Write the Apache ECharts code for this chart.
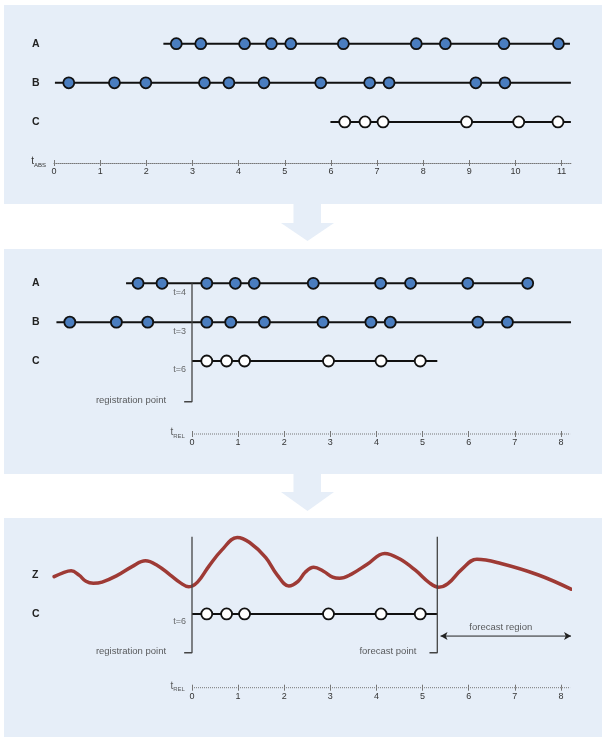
<!DOCTYPE html>
<html><head><meta charset="utf-8">
<script src="https://cdn.jsdelivr.net/npm/echarts@6/dist/echarts.min.js"></script>
<style>html,body{margin:0;padding:0;background:#fff}#c{width:602px;height:738px}</style>
</head><body><div id="c"></div>
<script>
// ---------- data ----------
// Panel 1: absolute time
const absTicks = [0,1,2,3,4,5,6,7,8,9,10,11];
const absA = [2.65,3.18,4.13,4.71,5.13,6.27,7.85,8.48,9.75,10.93];
const absB = [0.32,1.31,1.99,3.26,3.79,4.55,5.78,6.84,7.26,9.14,9.77];
const absC = [6.30,6.74,7.13,8.94,10.07,10.92];
const absSpanA = [2.37, 11.18];
const absSpanB = [0.02, 11.2];
const absSpanC = [5.99, 11.2];
// Panel 2: relative time (registered)
const relTicks = [0,1,2,3,4,5,6,7,8];
const relA = [-1.17,-0.65,0.32,0.94,1.35,2.63,4.09,4.74,5.98,7.28];
const relB = [-2.65,-1.64,-0.96,0.32,0.84,1.57,2.84,3.88,4.30,6.20,6.84];
const relC = [0.32,0.75,1.14,2.96,4.10,4.95];
const relSpanA = [-1.43, 7.28];
const relSpanB = [-2.94, 8.22];
const relSpanC = [0, 5.32];
const rowNames = ['A','B','C'];
const shifts = [4, 3, 6];
// Panel 3: outcome Z and forecast
const zTime  = [-2.99,-2.80,-2.62,-2.45,-2.30,-2.14,-1.95,-1.64,-1.30,-1.01,-0.75,-0.47,-0.25,-0.07,0.12,0.36,0.65,0.98,1.25,1.60,1.85,2.10,2.30,2.46,2.64,2.85,3.05,3.20,3.45,3.80,4.18,4.50,4.85,5.15,5.35,5.55,5.85,6.18,6.70,7.50,8.22];
const zLevel = [0.96,1.06,1.11,1.00,0.84,0.79,0.82,0.98,1.22,1.37,1.25,1.00,0.80,0.70,0.82,1.22,1.65,1.97,1.84,1.45,1.00,0.72,0.84,1.08,1.20,1.10,0.95,0.92,1.02,1.28,1.56,1.42,1.12,0.80,0.69,0.78,1.15,1.41,1.30,1.01,0.64];
const forecastPoint = 5.32;
const forecastRegion = [5.39, 8.22];

// ---------- helpers ----------
const BLUE = '#4a7dbf', INK = '#111', FONT = 'Liberation Sans';
const SUBRICH = {t:{fontFamily:FONT,fontSize:10,color:'#333',padding:[0,0,3,0]},
                 s:{fontFamily:FONT,fontSize:6,color:'#333',padding:[4,0,0,0]}};
function spanLine(g, span, y){
  return {type:'line', xAxisIndex:2*g, yAxisIndex:g, data:[[span[0],y],[span[1],y]],
    symbol:'none', clip:false, silent:true, lineStyle:{color:INK,width:2}, z:3};
}
function dots(g, xs, y, fill){
  return {type:'scatter', xAxisIndex:2*g, yAxisIndex:g, data:xs.map(x=>[x,y]),
    symbol:'circle', symbolSize:11, clip:false, silent:true,
    itemStyle:{color:fill,borderColor:INK,borderWidth:1.8,opacity:1}, z:5};
}
function bracket(g, x, yTop, yBot){
  return {type:'line', xAxisIndex:2*g, yAxisIndex:g, data:[[x-0.17,yBot],[x,yBot],[x,yTop]],
    symbol:'none', clip:false, silent:true, lineStyle:{color:'#444',width:1.3}, z:4};
}
function textAt(g, x, y, text, dist, off, size, color, rich, pos){
  return {type:'scatter', xAxisIndex:2*g, yAxisIndex:g, data:[[x,y]], symbolSize:0.1, clip:false, silent:true,
    itemStyle:{color:'rgba(0,0,0,0)'},
    label:{show:true, position:pos||'left', distance:dist, offset:off||[0,0], formatter:text,
      fontFamily:FONT, fontSize:size||9.5, color:color||'#333', rich:rich}, z:6};
}
function axisLineSeries(g, x0, x1, y){
  return {type:'line', xAxisIndex:2*g, yAxisIndex:g, data:[[x0,y],[x1,y]], symbol:'none', clip:false, silent:true,
    lineStyle:{color:'#777',width:1,type:[1,1]}, z:2};
}
function xAxesFor(g, min, max, ticks, showLine, name){
  const base = {type:'value', gridIndex:g, min:min, max:max, position:'bottom', splitLine:{show:false}};
  const main = Object.assign({}, base, {
      axisLine:{show:showLine, onZero:false, lineStyle:{color:'#777',width:1,type:[1,1]}},
      axisTick:{show:true, length:3, customValues:ticks, lineStyle:{color:'#777'}},
      axisLabel:{show:true, customValues:ticks, margin:4, fontFamily:FONT, fontSize:9, color:'#333'}
  });
  if (name) Object.assign(main, {name:name, nameLocation:'start', nameGap:8, nameTextStyle:{rich:SUBRICH}});
  return [main,
    Object.assign({}, base, {
      axisLine:{show:false, onZero:false},
      axisTick:{show:true, inside:true, length:3, customValues:ticks, lineStyle:{color:'#777'}},
      axisLabel:{show:false}
    })
  ];
}
function yAxisFor(g, min, max, labels, left){
  return {type:'value', gridIndex:g, min:min, max:max, axisLine:{show:false}, axisTick:{show:false},
    splitLine:{show:false},
    axisLabel:{show:true, customValues:Object.keys(labels).map(Number), formatter:v=>labels[v],
      align:'left', margin:left-32, fontFamily:FONT, fontWeight:'bold', fontSize:10.5, color:'#222'}};
}

// ---------- layout ----------
const U1 = 46.15, U2 = 46.11, REL_MIN = -3, REL_MAX = 8.2;
const grids = [
  {left:54, top:43.7, width:11.2*U1, height:119.3},
  {left:192 + REL_MIN*U2, top:283.3, width:(REL_MAX-REL_MIN)*U2, height:150.7},
  {left:192 + REL_MIN*U2, top:536.3, width:(REL_MAX-REL_MIN)*U2, height:151.4}
];
grids.forEach(g=>{g.outerBoundsMode='none'; g.containLabel=false;});
const Y2MIN = -1.88, Y3MIN = -1.9, ARROW_Y = -0.57;

const series = [];
// Panel 1
series.push(spanLine(0, absSpanA, 2), spanLine(0, absSpanB, 1), spanLine(0, absSpanC, 0));
series.push(dots(0, absA, 2, BLUE), dots(0, absB, 1, BLUE), dots(0, absC, 0, '#fff'));
// Panel 2
series.push(axisLineSeries(1, 0, REL_MAX, Y2MIN));
series.push(textAt(1, 0, Y2MIN, '{t|t}{s|REL}', 7, [0,0], 10, '#333', SUBRICH));
series.push(spanLine(1, relSpanA, 2), spanLine(1, relSpanB, 1), spanLine(1, relSpanC, 0));
series.push(bracket(1, 0, 2, -1.05));
series.push(dots(1, relA, 2, BLUE), dots(1, relB, 1, BLUE), dots(1, relC, 0, '#fff'));
shifts.forEach((s,i)=>series.push(textAt(1, 0, 2-i, 't='+s, 6, [0,9], 9, '#444')));
series.push(textAt(1, -0.17, -1.05, 'registration point', 18, [0,-1]));
// Panel 3
series.push(axisLineSeries(2, 0, REL_MAX, Y3MIN));
series.push(textAt(2, 0, Y3MIN, '{t|t}{s|REL}', 7, [0,0], 10, '#333', SUBRICH));
series.push({type:'line', xAxisIndex:4, yAxisIndex:2, data:zTime.map((t,i)=>[t,zLevel[i]]),
  symbol:'none', smooth:0.4, clip:false, silent:true,
  lineStyle:{color:'#9e3a35',width:3.5,cap:'round',join:'round'}, z:3});
series.push(spanLine(2, [0, forecastPoint], 0));
series.push(bracket(2, 0, 1.99, -1.0), bracket(2, forecastPoint, 1.99, -1.0));
series.push(dots(2, relC, 0, '#fff'));
series.push(textAt(2, 0, 0, 't='+shifts[2], 6, [0,8], 9, '#444'));
series.push(textAt(2, -0.17, -1.0, 'registration point', 18, [0,-1]));
series.push(textAt(2, forecastPoint-0.17, -1.0, 'forecast point', 13, [0,-1]));
// forecast region double arrow
series.push({type:'line', xAxisIndex:4, yAxisIndex:2, clip:false, silent:true, z:4,
  data:[{value:[forecastRegion[0],ARROW_Y], symbolRotate:90}, {value:[forecastRegion[1],ARROW_Y], symbolRotate:-90}],
  symbol:'arrow', symbolSize:[6,7], showSymbol:true, showAllSymbol:true,
  itemStyle:{color:'#222'}, lineStyle:{color:'#222',width:1}});
series.push(textAt(2, (forecastRegion[0]+forecastRegion[1])/2, ARROW_Y, 'forecast region', 4, [-5,0], 9.5, '#333', null, 'top'));

// backgrounds and connecting arrows (decoration)
const BG = '#e6eef8';
function downArrow(y0, y1, y2){
  return {type:'polygon', z:-10, silent:true,
    shape:{points:[[293.5,y0],[321,y0],[321,y1],[334,y1],[307.5,y2],[281,y1],[293.5,y1]]},
    style:{fill:BG}};
}
const graphic = [
  {type:'rect', z:-10, silent:true, shape:{x:4,y:5,width:598,height:199}, style:{fill:BG}},
  {type:'rect', z:-10, silent:true, shape:{x:4,y:249,width:598,height:225}, style:{fill:BG}},
  {type:'rect', z:-10, silent:true, shape:{x:4,y:518,width:598,height:219}, style:{fill:BG}},
  downArrow(204, 223, 241),
  downArrow(474, 492, 511)
];

const chart = echarts.init(document.getElementById('c'), null, {renderer:'canvas'});
chart.setOption({
  animation:false,
  backgroundColor:'#fff',
  graphic: graphic,
  grid: grids,
  xAxis: [].concat(
    xAxesFor(0, 0, 11.2, absTicks, true, '{t|t}{s|ABS}'),
    xAxesFor(1, REL_MIN, REL_MAX, relTicks, false, null),
    xAxesFor(2, REL_MIN, REL_MAX, relTicks, false, null)),
  yAxis: [
    yAxisFor(0, -1.05, 2, {0:'C',1:'B',2:'A'}, grids[0].left),
    yAxisFor(1, Y2MIN, 2, {0:'C',1:'B',2:'A'}, grids[1].left),
    yAxisFor(2, Y3MIN, 2, {0:'C',1:'Z'}, grids[2].left)
  ],
  series: series
});
</script>
</body></html>
